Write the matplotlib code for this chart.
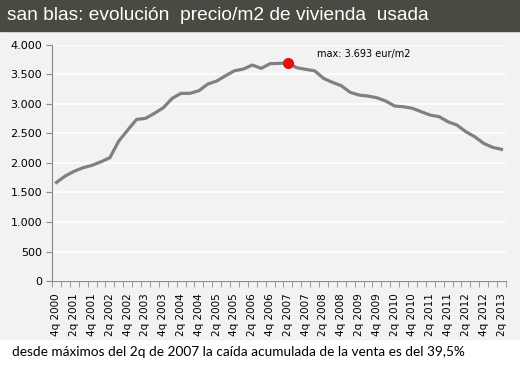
import matplotlib.pyplot as plt
from matplotlib.patches import Rectangle
from matplotlib.ticker import FuncFormatter

# trimestres 4q 2000 .. 2q 2013
quarters = ['4q 2000'] + [f'{q}q {y}' for y in range(2001, 2013) for q in (1, 2, 3, 4)] + ['1q 2013', '2q 2013']

# precio eur/m2
prices = [1670, 1780, 1860, 1920, 1960, 2020, 2088, 2370, 2556, 2737,
          2754, 2839, 2934, 3093, 3178, 3178, 3222, 3335, 3386, 3476,
          3560, 3589, 3657, 3601, 3680, 3685, 3693, 3612, 3584, 3560,
          3432, 3364, 3307, 3195, 3149, 3132, 3103, 3047, 2963, 2951,
          2924, 2866, 2810, 2782, 2697, 2641, 2528, 2443, 2331, 2264, 2230]

max_label = 'max: 3.693 eur/m2'
title = 'san blas: evolución  precio/m2 de vivienda  usada'
footer = 'desde máximos del 2q de 2007 la caída acumulada de la venta es del 39,5%'

bg = '#f2f2f2'
fig = plt.figure(figsize=(5.2, 3.67), dpi=100, facecolor='white')

# fondo del grafico y barra de titulo
fig.patches.append(Rectangle((0, 0.075), 1, 0.85, transform=fig.transFigure, color=bg, zorder=-2))
fig.patches.append(Rectangle((0, 0.916), 1, 0.084, transform=fig.transFigure, color='#4a4a42', zorder=-1))
fig.text(0.014, 0.958, title, color='white', fontsize=13.8, family='Liberation Sans', va='center', ha='left')
fig.text(0.023, 0.04, footer, color='black', fontsize=9.8, family='Lato', va='center', ha='left')

ax = fig.add_axes([0.1, 0.234, 0.873, 0.644])
ax.set_facecolor(bg)

x = list(range(len(prices)))
ax.plot(x, prices, color='#808080', lw=2.3, solid_joinstyle='round', zorder=3)

imax = prices.index(max(prices))
ax.plot(imax, prices[imax], 'o', color='#e8100f', ms=7, zorder=4)
ax.text(imax + 3.3, 3843, max_label, fontsize=7, va='center', ha='left', color='black')

ax.set_xlim(-0.5, len(prices) - 0.5)
ax.set_ylim(0, 4000)
ax.set_yticks(range(0, 4001, 500))
ax.yaxis.set_major_formatter(FuncFormatter(lambda v, p: f'{int(v):,}'.replace(',', '.')))
ax.grid(axis='y', color='white', lw=1.2)
ax.set_axisbelow(True)

ax.set_xticks(x[::2])
ax.set_xticklabels(quarters[::2], rotation=90, fontsize=7.5)
ax.set_xticks([i - 0.5 for i in range(len(prices) + 1)], minor=True)
ax.tick_params(axis='x', which='major', length=0, pad=9)
ax.tick_params(axis='x', which='minor', length=4, color='#888888')
ax.tick_params(axis='y', length=4, color='#888888', labelsize=8, pad=3)

for s in ['top', 'right']:
    ax.spines[s].set_visible(False)
for s in ['left', 'bottom']:
    ax.spines[s].set_color('#888888')

fig.savefig('out.png', dpi=100, facecolor='white')
